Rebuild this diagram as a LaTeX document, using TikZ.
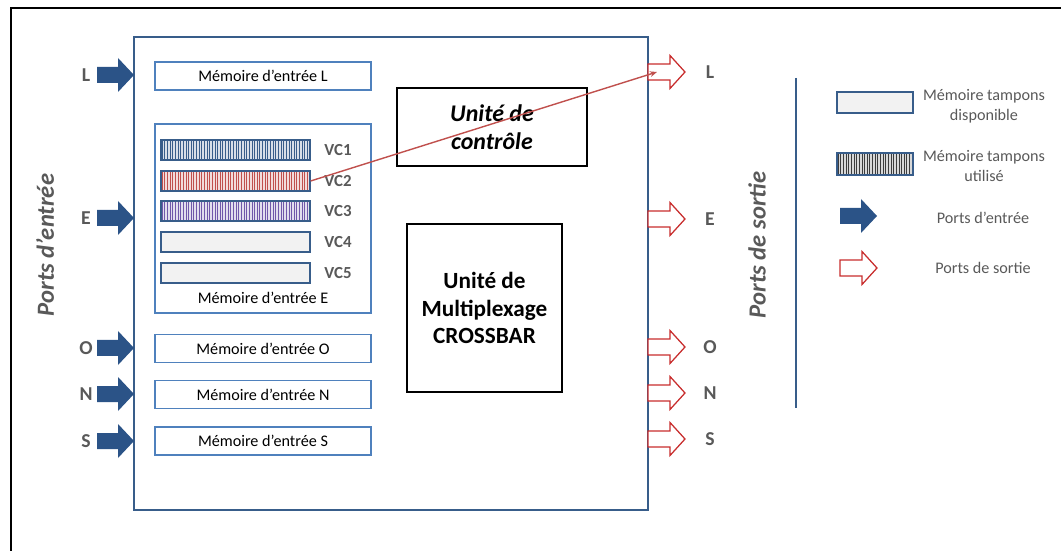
\documentclass[tikz,border=0pt]{standalone}
\usepackage{fontspec}
\setmainfont{Carlito}
\usetikzlibrary{arrows.meta}

\definecolor{boxblue}{RGB}{56,93,138}
\definecolor{lineblue}{RGB}{79,129,189}
\definecolor{portblue}{RGB}{43,83,135}
\definecolor{portred}{RGB}{200,45,45}
\definecolor{ctrlred}{RGB}{192,80,77}
\definecolor{vcviolet}{RGB}{112,88,170}
\definecolor{legdark}{RGB}{60,60,60}
\definecolor{txtgray}{RGB}{89,89,89}

\begin{document}
\begin{tikzpicture}[
        x=0.025cm, y=-0.025cm,
        membox/.style={draw=lineblue, line width=0.9pt, fill=white, minimum width=5.4cm, minimum height=0.7cm, inner sep=0pt, font=\fontsize{11.5}{13}\selectfont},
        vcbar/.style={draw=boxblue, line width=0.8pt, minimum width=3.725cm, minimum height=0.5cm, inner sep=0pt},
        freebar/.style={vcbar, fill=black!5},
        usedbar/.style={vcbar, fill=#1!20, path picture={
            \foreach \k in {0,...,60}
                \draw[#1, line width=0.6pt] ([xshift=\k*0.066cm+0.03cm]path picture bounding box.south west) -- ([xshift=\k*0.066cm+0.03cm]path picture bounding box.north west);
        }},
        unitbox/.style={draw=black, line width=0.9pt, inner sep=0pt, align=center, font=\fontsize{16.5}{19.5}\selectfont\bfseries},
        portlbl/.style={text=txtgray, font=\fontsize{14}{16}\selectfont\bfseries},
        vclbl/.style={text=txtgray, font=\fontsize{12}{14}\selectfont\bfseries},
        sidelbl/.style={text=txtgray, rotate=90, font=\fontsize{17.5}{20}\selectfont\bfseries\itshape},
        legtxt/.style={text=txtgray, align=center, font=\fontsize{11.5}{14}\selectfont},
        ctrlline/.style={draw=ctrlred, line width=1pt, -{Stealth[length=5pt,width=4pt]}},
        pics/inport/.style={code={
            \fill[portblue] (-37,-8) -- (-16,-8) -- (-16,-17) -- (0,0) -- (-16,17) -- (-16,8) -- (-37,8) -- cycle;
            \coordinate (-tip) at (0,0);
        }},
        pics/outport/.style={code={
            \draw[portred, fill=white, line width=0.9pt, line join=miter] (0,-8) -- (22,-8) -- (22,-16.5) -- (37,0) -- (22,16.5) -- (22,8) -- (0,8) -- cycle;
            \coordinate (-mid) at (9,0);
        }}
    ]
    \useasboundingbox (0,0) rectangle (1061,551);

    % outer frame (cut at right and bottom)
    \draw[line width=1.4pt] (11,551) -- (11,8) -- (1061,8);

    % router
    \draw[boxblue, line width=1.4pt] (134,37) rectangle (648,510);

    % input memories
    \node[membox] (memL) at (263,76) {Mémoire d’entrée L};
    \node[membox, minimum height=4.725cm] (memE) at (263,218.5) {};
    \node[font=\fontsize{11.5}{13}\selectfont] (memEtxt) at (263,298) {Mémoire d’entrée E};
    \node[membox] (memO) at (263,348.5) {Mémoire d’entrée O};
    \node[membox] (memN) at (263,394.5) {Mémoire d’entrée N};
    \node[membox] (memS) at (263,441) {Mémoire d’entrée S};

    % virtual channels of E
    \node[usedbar=boxblue] (vc1) at (235.5,150) {};
    \node[usedbar=ctrlred] (vc2) at (235.5,181) {};
    \node[usedbar=vcviolet] (vc3) at (235.5,211) {};
    \node[freebar] (vc4) at (235.5,242) {};
    \node[freebar] (vc5) at (235.5,273) {};
    \foreach \i/\y in {1/150,2/181,3/211,4/242,5/273}
        \node[vclbl] (vc\i lbl) at (338,\y) {VC\i};

    % units
    \node[unitbox, minimum width=4.75cm, minimum height=1.95cm, font=\fontsize{17}{20}\selectfont\bfseries\itshape] (ctrl) at (492,127) {Unité de\\contrôle};
    \node[unitbox, minimum width=3.875cm, minimum height=4.2cm] (xbar) at (484.5,308) {Unité de\\Multiplexage\\CROSSBAR};

    % ports
    \foreach \p/\yin/\yout in {L/75/72, E/218/219, O/348/347, N/394/393, S/441/439} {
        \pic (in\p) at (134,\yin) {inport};
        \node[portlbl] (in\p lbl) at (86,\yin) {\p};
        \pic (out\p) at (648,\yout) {outport};
        \node[portlbl] (out\p lbl) at (710,\yout) {\p};
    }
    \node[sidelbl] (inside) at (45,245) {Ports d’entrée};
    \node[sidelbl] (outside) at (757,245) {Ports de sortie};

    % VC2 routed to output L
    \draw[ctrlline] (vc2.east) -- (outL-mid);

    % legend
    \draw[boxblue, line width=0.8pt] (796,78) -- (796,408);
    \node[freebar, minimum width=1.9cm, minimum height=0.525cm] (legfree) at (875,102.5) {};
    \node[usedbar=legdark, minimum width=1.9cm, minimum height=0.55cm] (legused) at (875,164) {};
    \pic (legin) at (877,216) {inport};
    \pic (legout) at (840,268) {outport};
    \node[legtxt] (legfreetxt) at (984,106) {Mémoire tampons\\disponible};
    \node[legtxt] (legusedtxt) at (984,166) {Mémoire tampons\\utilisé};
    \node[legtxt] (legintxt) at (983,218) {Ports d’entrée};
    \node[legtxt] (legouttxt) at (983,268) {Ports de sortie};
\end{tikzpicture}
\end{document}
